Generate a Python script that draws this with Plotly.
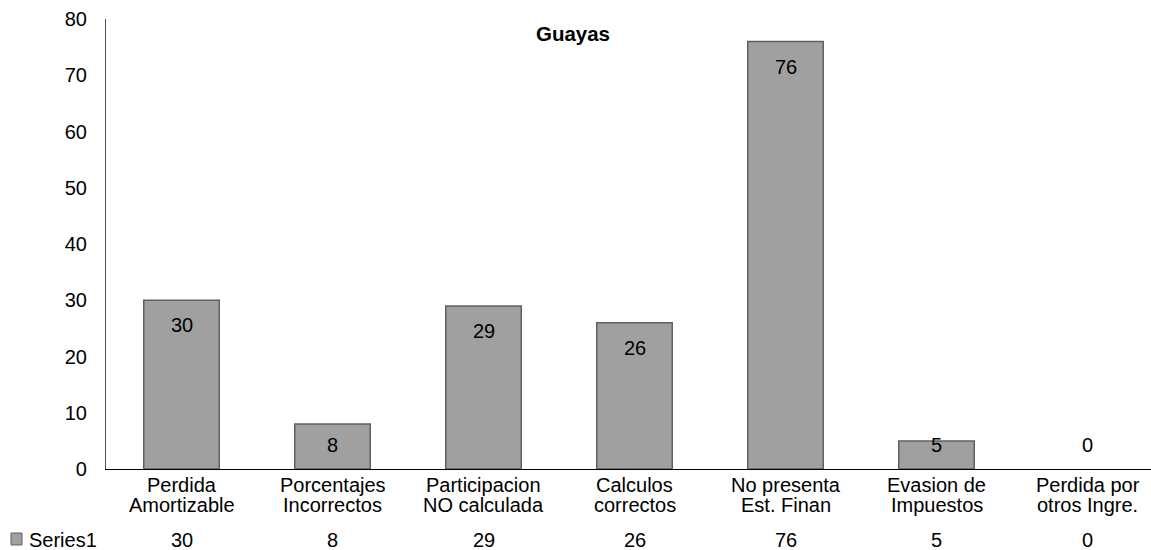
import plotly.graph_objects as go

# Data
categorias = [
    ["Perdida", "Amortizable"],
    ["Porcentajes", "Incorrectos"],
    ["Participacion", "NO calculada"],
    ["Calculos", "correctos"],
    ["No presenta", "Est. Finan"],
    ["Evasion de", "Impuestos"],
    ["Perdida por", "otros Ingre."],
]
valores = [30, 8, 29, 26, 76, 5, 0]
serie = "Series1"
y_ticks = [0, 10, 20, 30, 40, 50, 60, 70, 80]

FONT = "Arial, Liberation Sans, Helvetica, sans-serif"
W, H = 1151, 550
M_L, M_R, M_T, M_B = 106, 0, 19, 81
Y_MAX = 80
PLOT_W = W - M_L - M_R
px_per_unit = (H - M_T - M_B) / Y_MAX

x = list(range(len(valores)))
txt = dict(family=FONT, size=20, color="#000000")

fig = go.Figure()
fig.add_trace(go.Bar(
    x=x, y=valores, name=serie, width=0.5,
    marker=dict(color="#a0a0a0",
                line=dict(color="#606060",
                          width=[1.5 if v > 0 else 0 for v in valores])),
    showlegend=False, hoverinfo="skip",
))

ann = []
# value labels inside the top of each bar (kept above the axis for short bars)
for xi, v in zip(x, valores):
    shift = max(-25, 24 - v * px_per_unit)
    ann.append(dict(x=xi, y=v, xref="x", yref="y", text=str(v), showarrow=False,
                    yanchor="middle", yshift=shift, font=txt))

# category labels (two lines) and data-table row below the axis
for xi, (l1, l2), v in zip(x, categorias, valores):
    for line, dy in ((l1, -16), (l2, -36), (str(v), -71)):
        ann.append(dict(x=xi, y=0, xref="x", yref="y", text=line, showarrow=False,
                        yanchor="middle", yshift=dy, font=txt))

# series name in the data table
ann.append(dict(x=(27 - M_L) / PLOT_W, y=0, xref="paper", yref="y", text=serie,
                showarrow=False, xanchor="left", yanchor="middle", yshift=-71,
                font=txt))

fig.update_layout(
    width=W, height=H,
    margin=dict(l=M_L, r=M_R, t=M_T, b=M_B, pad=0),
    paper_bgcolor="white", plot_bgcolor="white",
    font=txt,
    title=dict(text="<b>Guayas</b>", xref="container", x=573 / W, xanchor="center",
               yref="container", y=1 - 33.5 / H, yanchor="middle",
               font=dict(family=FONT, size=20.5, color="#000000")),
    xaxis=dict(range=[-0.5, -0.5 + PLOT_W / 151], showticklabels=False,
               showgrid=False, zeroline=False, ticks="", layer="above traces",
               showline=True, linecolor="#000000", linewidth=1.2),
    yaxis=dict(range=[0, Y_MAX], tickvals=y_ticks, showgrid=False, zeroline=False,
               ticks="", showline=True, linecolor="#505050", linewidth=1.2,
               ticklabelstandoff=14, tickfont=txt),
    annotations=ann,
    bargap=0.5,
)

# legend key square for the data-table row
fig.add_shape(type="rect", xref="paper", yref="paper",
              x0=(11 - M_L) / PLOT_W, x1=(22 - M_L) / PLOT_W,
              y0=(H - M_B - 545) / (H - M_T - M_B), y1=(H - M_B - 533) / (H - M_T - M_B),
              fillcolor="#a0a0a0", line=dict(color="#606060", width=1))

fig.write_html("out.html")
